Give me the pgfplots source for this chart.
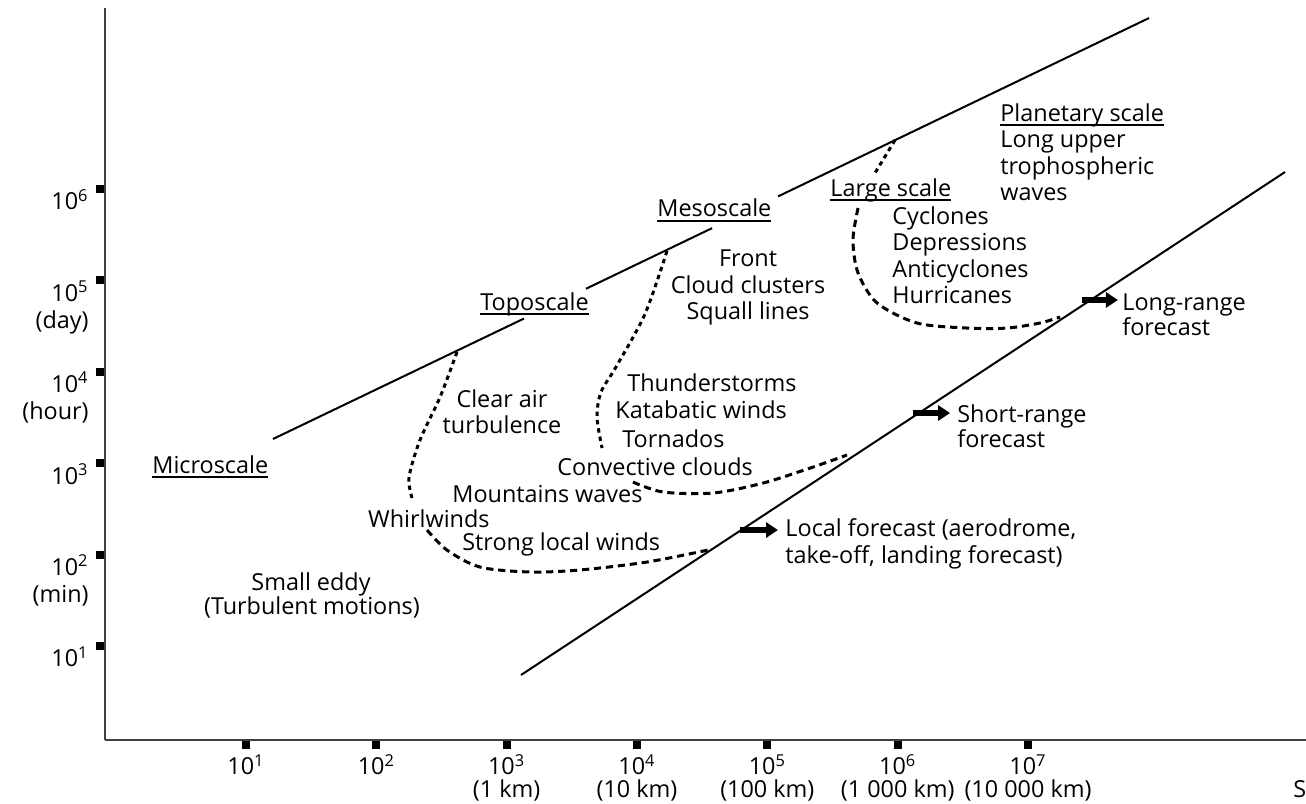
\documentclass[border=0pt]{standalone}
\usepackage{fontspec}
\setmainfont{Open Sans}
\usepackage{pgfplots}
\pgfplotsset{compat=1.18}
\usetikzlibrary{arrows.meta}
\tikzset{txt/.style={inner sep=0pt},
  dotv/.style={black, line width=1.5pt, dash pattern=on 2.2pt off 2pt, smooth},
  doth/.style={black, line width=1.5pt, dash pattern=on 3.6pt off 2.4pt, smooth}}
\newsavebox\ulbox
\newcommand{\ul}[1]{\sbox\ulbox{#1}\rlap{\rule[-2.4pt]{\wd\ulbox}{0.8pt}}\usebox\ulbox}
\begin{document}
\begin{tikzpicture}[font=\fontsize{11.7}{13.5}\selectfont]
\begin{axis}[
  x=65.165pt, y=45.7pt,
  xmin=-0.082, xmax=9.133, ymin=-0.028, ymax=7.98,
  axis x line=bottom, axis y line=left,
  axis line style={-, line width=1.2pt, black!75},
  xtick={1,...,7}, ytick={1,...,6},
  xticklabels={10\textsuperscript{1},10\textsuperscript{2},{10\textsuperscript{3}\\[-2.2pt](1 km)},{10\textsuperscript{4}\\[-2.2pt](10 km)},{10\textsuperscript{5}\\[-2.2pt](100 km)},{10\textsuperscript{6}\\[-2.2pt](1 000 km)},{10\textsuperscript{7}\\[-2.2pt](10 000 km)}},
  yticklabels={10\textsuperscript{1},{10\textsuperscript{2}\\(min)},10\textsuperscript{3},{10\textsuperscript{4}\\(hour)},{10\textsuperscript{5}\\(day)},10\textsuperscript{6}},
  tick align=outside,
  major tick length=4.5pt,
  tick style={line width=4pt, black},
  xticklabel style={font=\fontsize{11.7}{13.5}\selectfont, align=center, inner sep=0pt, anchor=north, yshift=-2.5pt},
  yticklabel style={font=\fontsize{11.7}{13.5}\selectfont, align=right, inner sep=0pt, anchor=north east, xshift=-3.5pt},
  clip=false,
]
% upper boundary line (with gaps for labels)
\addplot[black, line width=1pt] coordinates {(1.207,3.265) (3.133,4.583)};
\addplot[black, line width=1pt] coordinates {(3.609,4.909) (4.576,5.572)};
\addplot[black, line width=1pt] coordinates {(5.082,5.919) (7.929,7.871)};
% lower boundary line
\addplot[black, line width=1pt] coordinates {(3.110,0.683) (8.972,6.186)};
% dotted curves
\addplot[dotv] coordinates {(2.619,4.217) (2.489,3.724) (2.335,3.254) (2.251,2.849) (2.274,2.619)};
\addplot[doth] coordinates {(2.389,2.269) (2.542,2.050) (2.795,1.864) (3.179,1.810) (3.563,1.832) (4.077,1.919) (4.545,2.050)};
\addplot[dotv] coordinates {(4.230,5.322) (4.061,4.632) (3.839,4.053) (3.724,3.779) (3.693,3.505) (3.732,3.166)};
\addplot[doth] coordinates {(3.969,2.794) (4.200,2.685) (4.583,2.674) (4.967,2.783) (5.351,2.958) (5.611,3.090)};
\addplot[dotv] coordinates {(5.980,6.536) (5.826,6.175)};
\addplot[doth] coordinates {(5.696,5.792) (5.657,5.442) (5.696,5.081) (5.842,4.753) (6.148,4.534) (6.532,4.479) (6.839,4.479) (7.092,4.534) (7.246,4.600)};
% forecast arrows
\addplot[black, line width=2.6pt, -{Triangle[length=6pt,width=7.5pt]}] coordinates {(4.790,2.269) (5.082,2.269)};
\addplot[black, line width=2.6pt, -{Triangle[length=6pt,width=7.5pt]}] coordinates {(6.118,3.549) (6.402,3.549)};
\addplot[black, line width=2.6pt, -{Triangle[length=6pt,width=7.5pt]}] coordinates {(7.414,4.786) (7.690,4.786)};
% labels
\node[txt, anchor=base west] at (axis cs:0.2788,2.893) {\ul{Microscale}};
\node[txt, anchor=base west] at (axis cs:2.7955,4.676) {\ul{Toposcale}};
\node[txt, anchor=base west] at (axis cs:4.1535,5.694) {\ul{Mesoscale}};
\node[txt, anchor=base west] at (axis cs:5.481,5.923) {\ul{Large scale}};
\node[txt, anchor=base west] at (axis cs:6.785,6.744) {\ul{Planetary scale}};
\node[txt, anchor=base west] at (axis cs:6.785,6.449) {Long upper};
\node[txt, anchor=base west] at (axis cs:6.785,6.159) {trophospheric};
\node[txt, anchor=base west] at (axis cs:6.785,5.869) {waves};
\node[txt, anchor=base west] at (axis cs:5.957,5.617) {Cyclones};
\node[txt, anchor=base west] at (axis cs:5.957,5.327) {Depressions};
\node[txt, anchor=base west] at (axis cs:5.957,5.037) {Anticyclones};
\node[txt, anchor=base west] at (axis cs:5.957,4.747) {Hurricanes};
\node[txt, anchor=base] at (axis cs:4.852,5.147) {Front};
\node[txt, anchor=base] at (axis cs:4.852,4.862) {Cloud clusters};
\node[txt, anchor=base] at (axis cs:4.852,4.567) {Squall lines};
\node[txt, anchor=base west] at (axis cs:3.923,3.790) {Thunderstorms};
\node[txt, anchor=base west] at (axis cs:3.831,3.484) {Katabatic winds};
\node[txt, anchor=base west] at (axis cs:3.885,3.177) {Tornados};
\node[txt, anchor=base] at (axis cs:2.964,3.615) {Clear air};
\node[txt, anchor=base] at (axis cs:2.964,3.330) {turbulence};
\node[txt, anchor=base west] at (axis cs:3.386,2.871) {Convective clouds};
\node[txt, anchor=base west] at (axis cs:2.581,2.565) {Mountains waves};
\node[txt, anchor=base east] at (axis cs:2.872,2.302) {Whirlwinds};
\node[txt, anchor=base west] at (axis cs:2.657,2.050) {Strong local winds};
\node[txt, anchor=base west] at (axis cs:5.136,2.193) {Local forecast (aerodrome,};
\node[txt, anchor=base west] at (axis cs:5.136,1.908) {take-off, landing forecast)};
\node[txt, anchor=base west] at (axis cs:6.455,3.451) {Short-range};
\node[txt, anchor=base west] at (axis cs:6.455,3.177) {forecast};
\node[txt, anchor=base west] at (axis cs:7.721,4.676) {Long-range};
\node[txt, anchor=base west] at (axis cs:7.721,4.392) {forecast};
\node[txt, anchor=base] at (axis cs:1.499,1.613) {Small eddy};
\node[txt, anchor=base] at (axis cs:1.506,1.350) {(Turbulent motions)};
\node[txt, anchor=base west] at (axis cs:9.033,-0.652) {S};
\coordinate (bbA) at (axis cs:-0.8875,-0.7177);
\coordinate (bbB) at (axis cs:9.133,8.068);
\end{axis}
\pgfresetboundingbox
\path (bbA) rectangle (bbB);
\end{tikzpicture}
\end{document}
